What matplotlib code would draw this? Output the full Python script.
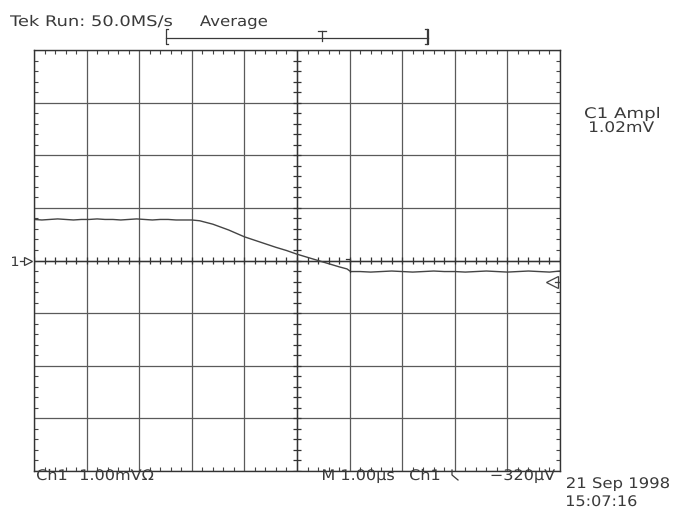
import matplotlib
matplotlib.use("Agg")
import matplotlib.pyplot as plt
import numpy as np
from matplotlib.textpath import TextPath
from matplotlib.patches import PathPatch
from matplotlib.font_manager import FontProperties
from matplotlib.transforms import Affine2D

# scope trace, in divisions (1 div = 1.00 mV, 1.00 us)
trace_x = [0.00, 0.15, 0.30, 0.45, 0.60, 0.75, 0.90, 1.05, 1.20, 1.35,
           1.50, 1.65, 1.80, 1.95, 2.10, 2.25, 2.40, 2.55, 2.70, 2.85,
           3.00, 3.15, 3.40, 3.70, 4.00, 4.30, 4.60, 4.80, 5.00, 5.20,
           5.40, 5.60, 5.80, 5.95, 6.02, 6.20, 6.40, 6.60, 6.80, 7.00,
           7.20, 7.40, 7.60, 7.80, 8.00, 8.20, 8.40, 8.60, 8.80, 9.00,
           9.20, 9.40, 9.60, 9.80, 10.00]
trace_y = [0.78, 0.77, 0.78, 0.79, 0.78, 0.77, 0.78, 0.78, 0.79, 0.78,
           0.78, 0.77, 0.78, 0.79, 0.78, 0.77, 0.78, 0.78, 0.77, 0.77,
           0.77, 0.755, 0.69, 0.58, 0.45, 0.35, 0.25, 0.19, 0.12, 0.06,
           0.00, -0.06, -0.12, -0.16, -0.21, -0.21, -0.22, -0.21, -0.20, -0.21,
           -0.22, -0.21, -0.20, -0.21, -0.21, -0.22, -0.21, -0.20, -0.21, -0.22,
           -0.21, -0.20, -0.21, -0.22, -0.20]

header = "Tek Run: 50.0MS/s"
mode = "Average"
meas_name = "C1 Ampl"
meas_value = "1.02mV"
ch_name = "Ch1"
ch_scale = "1.00mV\u03a9"
timebase = "M 1.00\u00b5s"
trig_src = "Ch1"
trig_val = "\u2212320\u00b5V"
date_str = "21 Sep 1998"
time_str = "15:07:16"
trig_level = -0.41

W, H = 674, 508
fig = plt.figure(figsize=(W / 100, H / 100), dpi=100)
fig.patch.set_facecolor("white")

ax = fig.add_axes([34 / W, 37 / H, 526 / W, 421 / H])
ax.set_xlim(0, 10)
ax.set_ylim(-4, 4)
ax.set_xticks(np.arange(0, 11, 1))
ax.set_yticks(np.arange(-4, 5, 1))
ax.set_xticks(np.arange(0, 10.01, 0.2), minor=True)
ax.set_yticks(np.arange(-4, 4.01, 0.2), minor=True)
ax.set_xticklabels([])
ax.set_yticklabels([])
ax.tick_params(which="major", length=0)
ax.tick_params(which="minor", direction="in", length=3, width=0.8,
               color="#444444", top=True, right=True)
ax.grid(which="major", color="#5a5a5a", linewidth=0.9)
for s in ax.spines.values():
    s.set_color("#333333")
    s.set_linewidth(1.0)

# center cross with fine ticks
ax.axhline(0, color="#333333", lw=1.0)
ax.axvline(5, color="#333333", lw=1.0)
minor_x = np.arange(0, 10.01, 0.2)
minor_y = np.arange(-4, 4.01, 0.2)
ax.vlines(minor_x, -0.07, 0.07, color="#333333", lw=0.9)
ax.hlines(minor_y, 4.93, 5.07, color="#333333", lw=0.9)

ax.plot(trace_x, trace_y, color="#444444", lw=1.0)
# small mark where the trace settles
ax.plot([5.93, 6.0, 6.0], [0.03, 0.03, -0.21], color="#333333", lw=0.9)

# trigger level arrow at the right edge
ax.plot([9.85], [trig_level], marker="<", ms=8, mfc="white", mec="#444444",
        mew=0.9, clip_on=False)
ax.plot([9.9, 10.0], [trig_level, trig_level], color="#444444", lw=0.9)

# overlay in pixel coordinates for the readouts
ov = fig.add_axes([0, 0, 1, 1], facecolor="none")
ov.set_xlim(0, W)
ov.set_ylim(H, 0)
ov.axis("off")

tc = "#3a3a3a"
font = FontProperties(family="DejaVu Sans")


def tek_text(x, y, s, ha="left", size=14.6, sx=1.1, width=None):
    # wide, screen-style lettering: text path stretched sideways
    tp = TextPath((0, 0), s, size=size, prop=font)
    ext = tp.get_extents()
    if width is not None:
        sx = width / (ext.x1 - ext.x0)
    w = (ext.x1 - ext.x0) * sx
    x0 = x - ext.x0 * sx
    if ha == "center":
        x0 -= w / 2
    elif ha == "right":
        x0 -= w
    path = Affine2D().scale(sx, -1).translate(x0, y).transform_path(tp)
    ov.add_patch(PathPatch(path, fc=tc, ec="none", lw=0))


tek_text(10, 26, header, width=162)
tek_text(200, 26, mode, width=67)

# trigger position bar
ov.plot([166, 428], [37.5, 37.5], color=tc, lw=0.9)
ov.plot([168, 166, 166, 168], [29, 29, 44, 44], color=tc, lw=0.9)
ov.plot([425, 428, 428, 425], [29, 29, 44, 44], color=tc, lw=0.9)
ov.plot([426.5, 426.5], [29, 44], color=tc, lw=0.9)
ov.plot([318, 326], [31, 31], color=tc, lw=0.9)
ov.plot([322, 322], [31, 41], color=tc, lw=0.9)

tek_text(622, 118, meas_name, ha="center", width=74)
tek_text(622, 132, meas_value, ha="center", width=64)

# channel 1 ground marker
tek_text(12, 266, "1", size=13)
ov.plot([20, 27], [261, 261], color=tc, lw=0.9)
ov.plot([28], [261], marker=">", ms=6, mfc="white", mec=tc, mew=0.9)

tek_text(37, 480, ch_name)
tek_text(81, 480, ch_scale)
tek_text(323, 480, timebase)
tek_text(410, 480, trig_src)
# falling-edge trigger slope symbol
ov.plot([452, 452, 458], [470, 475, 480], color=tc, lw=0.9)
tek_text(555, 480, trig_val, ha="right")
tek_text(567, 488, date_str, width=102)
tek_text(567, 506, time_str)

fig.savefig("out.png", dpi=100, facecolor="white")
